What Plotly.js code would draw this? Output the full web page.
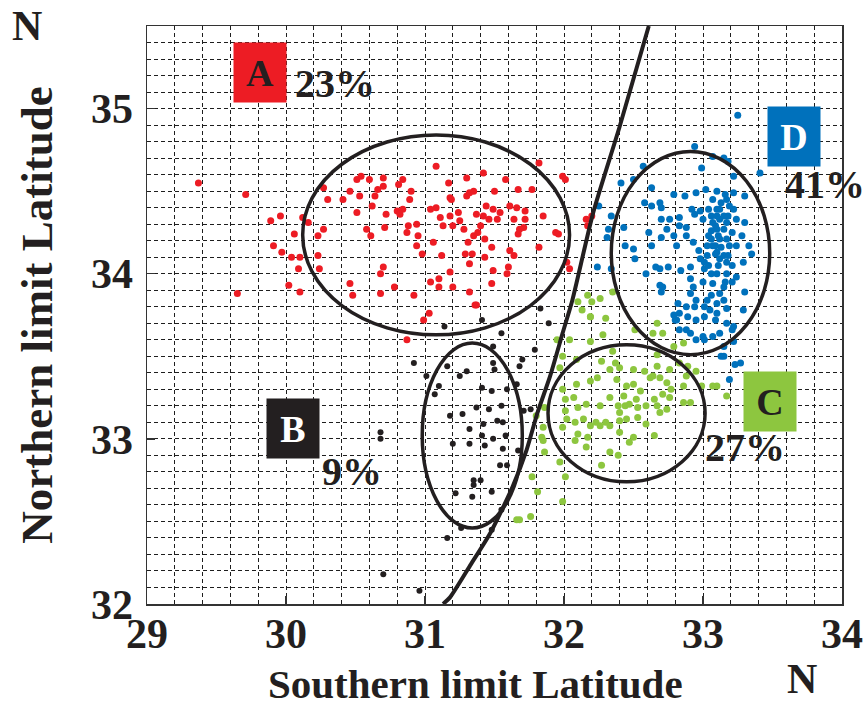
<!DOCTYPE html>
<html>
<head>
<meta charset="utf-8">
<script src="https://cdn.plot.ly/plotly-3.0.1.min.js"></script>
<style>
  html, body { margin: 0; padding: 0; background: #ffffff; }
  #chart { width: 865px; height: 709px; }
</style>
</head>
<body>
<div id="chart"></div>
<script>
// Group A (red): southern / northern limit latitudes
const groupAX = [29.89,29.96,30.12,30.16,30.06,29.91,29.97,30.04,30.10,30.09,30.02,30.10,30.23,30.24,30.23,30.27,30.30,30.27,30.41,30.46,
  30.51,30.54,30.60,30.53,30.51,30.58,30.61,30.62,30.64,30.66,30.70,30.70,30.72,30.71,30.70,30.68,30.68,30.46,30.48,30.78,
  30.81,30.84,30.80,30.84,30.82,30.87,30.88,30.90,30.89,30.94,30.95,30.94,30.98,31.04,31.08,31.08,31.04,31.10,31.10,31.06,
  31.12,31.13,31.11,31.17,31.18,31.19,31.18,31.20,31.20,31.18,31.24,31.25,31.28,31.30,31.32,31.35,31.30,31.29,31.34,31.32,
  31.31,31.35,31.38,31.37,31.42,31.44,31.46,31.40,31.42,31.43,31.43,31.49,31.50,31.52,31.48,31.49,31.48,31.32,31.36,31.54,
  31.58,31.61,31.64,31.66,31.67,31.61,31.64,31.60,31.59,31.67,31.68,31.72,31.72,31.71,31.77,31.82,31.85,31.82,31.94,31.96,
  31.99,32.01,32.02,32.04,32.16,32.20,32.17,31.03,30.99,30.92,29.37,29.71,29.65,31.37,30.87];
const groupAY = [34.32,34.35,34.34,34.31,34.24,34.17,34.13,34.10,34.10,34.03,33.93,33.89,34.11,34.03,34.23,34.27,34.45,34.52,34.45,34.50,
  34.57,34.59,34.57,34.47,34.37,34.27,34.23,34.41,34.47,34.51,34.58,34.53,34.36,34.28,34.04,34.00,33.88,33.94,33.87,33.92,
  34.54,34.57,34.38,34.39,34.36,34.25,34.29,34.50,34.45,34.30,34.23,34.17,34.12,34.39,34.65,34.40,33.95,33.97,33.92,34.19,
  34.11,34.29,34.34,34.55,34.46,34.45,34.35,34.29,33.92,34.01,34.37,34.32,34.27,34.47,34.49,34.50,34.58,34.12,34.12,34.06,
  34.19,34.23,34.25,34.36,34.35,34.41,34.33,34.29,34.61,34.21,34.10,34.39,34.50,34.33,34.16,34.02,33.94,33.89,33.81,34.37,
  34.57,34.41,34.33,34.40,34.51,34.14,34.11,34.04,34.00,34.24,34.27,34.38,34.33,34.28,34.51,34.16,34.35,34.67,34.25,34.24,
  34.59,34.57,34.07,34.03,34.33,34.35,34.29,33.76,33.72,33.87,34.55,34.48,33.88,33.81,33.60];

// Group B (black)
const groupBX = [31.41,31.14,31.55,30.92,31.01,31.16,31.25,31.30,31.49,31.49,31.50,31.41,31.48,31.59,31.10,31.37,31.46,31.55,31.66,31.70,
  31.68,31.79,31.89,31.83,31.18,31.27,31.32,31.42,31.52,31.56,31.58,31.41,31.49,31.43,31.20,31.32,31.56,31.67,31.54,31.59,
  31.35,31.40,31.35,31.22,31.48,31.34,31.55,31.26,31.48,31.16,30.68,30.68,30.70,30.96,31.71,31.76,31.07];
const groupBY = [33.72,33.68,33.64,33.46,33.38,33.44,33.38,33.41,33.56,33.46,33.42,33.31,33.29,33.30,33.32,33.19,33.18,33.20,33.33,33.48,
  33.44,33.54,33.70,33.79,33.14,33.15,33.06,33.09,33.11,33.10,33.02,33.02,33.00,32.96,32.97,32.97,32.94,32.93,32.84,32.84,
  32.75,32.75,32.72,32.67,32.68,32.65,32.57,32.46,32.45,32.40,33.04,33.00,32.18,32.08,33.17,33.18,33.27];

// Group C (green)
const groupCX = [32.17,32.20,32.26,32.10,32.35,32.30,32.19,32.04,32.19,32.28,32.51,32.64,32.67,32.71,32.79,32.86,31.99,31.97,32.09,32.27,
  32.35,32.37,32.40,32.33,32.50,32.58,32.67,32.67,32.76,32.83,32.89,32.95,31.99,32.09,32.19,32.24,32.38,32.45,32.50,32.55,
  32.62,32.64,32.69,32.74,32.77,32.71,32.76,32.86,32.88,32.99,33.10,33.17,32.91,32.86,32.01,32.07,32.01,32.10,32.16,32.26,
  32.33,32.39,32.43,32.44,32.47,32.52,32.53,32.59,32.67,32.69,32.74,32.65,32.02,32.08,32.14,32.19,32.23,32.30,32.33,32.40,
  32.45,32.53,32.59,32.40,31.99,32.10,32.17,32.26,32.40,32.47,32.50,32.65,32.08,32.16,32.33,32.39,32.27,31.97,31.86,31.84,
  31.85,31.80,32.01,31.77,31.81,31.99,31.76,31.86,33.07,31.85,31.95,31.68,31.66,32.19,32.13];
const groupCY = [33.87,33.83,33.85,33.83,33.89,33.73,33.74,33.60,33.59,33.63,33.66,33.64,33.70,33.64,33.56,33.58,33.50,33.43,33.48,33.47,
  33.53,33.46,33.43,33.42,33.42,33.41,33.51,33.44,33.42,33.46,33.44,33.41,33.30,33.33,33.35,33.37,33.36,33.32,33.33,33.29,
  33.37,33.38,33.37,33.34,33.30,33.27,33.25,33.32,33.38,33.32,33.32,33.26,33.22,33.22,33.24,33.25,33.17,33.19,33.21,33.20,
  33.25,33.20,33.26,33.20,33.21,33.24,33.19,33.20,33.20,33.16,33.18,33.24,33.12,33.10,33.12,33.08,33.10,33.10,33.08,33.11,
  33.12,33.13,33.09,33.16,33.07,33.03,33.01,33.08,33.04,32.98,33.01,33.02,32.99,32.95,32.92,32.90,32.84,32.86,32.92,33.01,
  33.07,33.14,32.77,32.77,32.68,32.62,32.53,33.19,33.32,32.99,33.60,32.51,32.51,33.74,33.78];

// Group D (blue)
const groupDX = [33.25,32.94,32.99,32.57,32.50,32.41,33.07,33.15,33.18,33.22,33.41,32.63,32.79,32.87,32.95,33.02,33.10,33.16,33.22,33.30,
  32.58,32.63,32.69,32.70,32.25,32.34,32.43,32.61,32.70,32.76,32.83,32.74,32.83,32.88,32.92,32.94,32.98,33.00,32.32,32.31,
  32.44,32.50,32.51,32.63,32.70,32.79,32.81,32.88,32.93,32.97,33.03,33.04,33.06,33.07,33.09,33.09,33.10,33.12,33.13,33.12,
  33.13,33.15,33.17,33.18,33.17,33.18,33.22,33.24,33.24,33.28,33.30,33.35,33.33,33.29,33.21,33.11,33.06,33.01,32.91,32.84,
  32.75,32.69,32.66,32.59,32.24,32.34,32.69,32.70,32.91,32.93,33.00,33.07,33.16,33.21,33.24,33.30,32.91,32.95,33.06,33.10,
  33.15,33.17,33.29,32.82,32.83,32.89,32.95,33.01,33.09,33.17,33.21,32.80,32.83,32.91,33.01,33.07,33.15,33.22,33.13,33.27,
  32.79,33.04,33.06,33.07,33.10,33.11,33.06,33.09,33.10,33.12,33.15,33.17,33.12,33.15,33.10,33.07,33.17,33.19,33.21,33.19,
  33.10,33.17,33.03,33.01,32.98,33.04,33.15,33.12,33.03,33.01,33.05,33.10,32.94,32.88,32.71,32.81,32.88,32.95,33.00,33.12,
  33.15,33.22,33.23,33.19];
const groupDY = [34.96,34.77,34.64,34.65,34.57,34.55,34.71,34.70,34.68,34.59,34.61,34.52,34.48,34.47,34.49,34.51,34.50,34.48,34.49,34.47,
  34.43,34.41,34.43,34.40,34.41,34.35,34.28,34.25,34.33,34.33,34.34,34.27,34.29,34.28,34.39,34.36,34.38,34.33,34.27,34.22,
  34.17,34.15,34.09,34.17,34.22,34.23,34.17,34.23,34.19,34.14,34.17,34.23,34.26,34.17,34.12,34.29,34.35,34.39,34.43,34.21,
  34.16,34.27,34.31,34.35,34.21,34.11,34.39,34.33,34.17,34.23,34.31,34.12,34.17,34.07,34.05,34.05,34.00,34.03,34.04,34.02,
  34.04,34.03,34.04,34.00,34.04,34.03,33.93,33.89,33.97,33.92,33.95,33.94,33.95,33.95,33.98,33.89,33.88,33.84,33.87,33.82,
  33.84,33.79,33.78,33.82,33.76,33.74,33.72,33.74,33.72,33.70,33.66,33.72,33.66,33.64,33.60,33.62,33.56,33.59,33.50,33.46,
  33.75,34.39,34.35,34.31,34.27,34.23,34.21,34.17,34.13,34.09,34.11,34.07,34.33,34.35,34.39,34.45,34.45,34.41,34.25,34.17,
  34.00,34.00,34.11,34.07,34.09,34.05,33.92,33.88,33.84,33.80,33.78,33.76,33.80,33.80,33.92,33.72,33.66,33.60,33.62,33.64,
  33.50,33.68,33.45,33.36];

// Dividing line between the western and eastern groups
const boundaryX = [31.13,31.18,31.33,31.47,31.63,31.73,31.81,31.90,31.99,32.06,32.21,32.40,32.61];
const boundaryY = [32.00,32.04,32.24,32.43,32.71,32.93,33.16,33.38,33.64,33.84,34.37,34.89,35.50];

// Cluster ellipses: centre and half-axes, in degrees
const ellipseNames = ["A", "B", "C", "D"];
const ellipseCx = [31.08, 31.34, 32.45, 32.91];
const ellipseCy = [34.235, 33.02, 33.155, 34.125];
const ellipseRx = [0.96, 0.36, 0.565, 0.57];
const ellipseRy = [0.605, 0.56, 0.415, 0.615];

// Group labels and shares
const labelText = ["A", "B", "C", "D"];
const labelX = [29.81, 30.05, 33.48, 33.655];
const labelY = [35.22, 33.06, 33.227, 34.83];
const labelBg = ["#ED1C24", "#231F20", "#8DC63F", "#0071BC"];
const labelInk = ["#231F20", "#ffffff", "#231F20", "#ffffff"];
const shareText = ["23%", "9%", "27%", "41%"];
const shareX = [30.35, 30.475, 33.30, 33.88];
const shareY = [35.15, 32.80, 32.95, 34.54];

// Axis ticks
const xTicks = [29, 30, 31, 32, 33, 34];
const yTicks = [32, 33, 34, 35];

const SERIF = "Liberation Serif, Times New Roman, serif";
const INK = "#231F20";

function pointTrace(xs, ys, color, size) {
  return {
    type: "scatter", mode: "markers", x: xs, y: ys,
    marker: { color: color, size: size, symbol: "circle", line: { width: 0 } },
    hoverinfo: "x+y", showlegend: false, cliponaxis: true
  };
}

const traces = [
  pointTrace(groupAX, groupAY, "#ED1C24", 7),
  pointTrace(groupCX, groupCY, "#8DC63F", 7),
  pointTrace(groupDX, groupDY, "#0071BC", 7),
  pointTrace(groupBX, groupBY, INK, 6),
  {
    type: "scatter", mode: "lines", x: boundaryX, y: boundaryY,
    line: { color: INK, width: 4, shape: "spline", smoothing: 0.6 },
    hoverinfo: "skip", showlegend: false
  }
];

const shapes = ellipseNames.map((n, i) => ({
  type: "circle", xref: "x", yref: "y",
  x0: ellipseCx[i] - ellipseRx[i], x1: ellipseCx[i] + ellipseRx[i],
  y0: ellipseCy[i] - ellipseRy[i], y1: ellipseCy[i] + ellipseRy[i],
  line: { color: INK, width: 3.5 }, fillcolor: "rgba(0,0,0,0)"
}));

const annotations = [];
labelText.forEach((t, i) => {
  annotations.push({
    x: labelX[i], y: labelY[i], xref: "x", yref: "y", text: t, showarrow: false,
    xanchor: "center", yanchor: "middle",
    bgcolor: labelBg[i], width: 50, height: 57, align: "center", valign: "middle",
    font: { family: SERIF, size: 38, weight: "bold", color: labelInk[i] }
  });
  annotations.push({
    x: shareX[i], y: shareY[i], xref: "x", yref: "y", text: shareText[i], showarrow: false,
    xanchor: "center", yanchor: "middle",
    font: { family: SERIF, size: 40, weight: "bold", color: INK }
  });
});
// compass marks and the horizontal axis title
annotations.push({
  x: -0.173, y: 1.0, xref: "paper", yref: "paper", text: "N", showarrow: false,
  xanchor: "center", yanchor: "middle",
  font: { family: SERIF, size: 42, weight: "bold", color: INK }
});
annotations.push({
  x: 0.942, y: -0.13, xref: "paper", yref: "paper", text: "N", showarrow: false,
  xanchor: "center", yanchor: "middle",
  font: { family: SERIF, size: 42, weight: "bold", color: INK }
});
annotations.push({
  x: 0.472, y: -0.139, xref: "paper", yref: "paper", text: "Southern limit Latitude", showarrow: false,
  xanchor: "center", yanchor: "middle",
  font: { family: SERIF, size: 41, weight: "bold", color: INK }
});

const gridDash = "4px,3px";
const gridColor = "#1e1e1e";
const axisCommon = {
  showline: true, mirror: true, linecolor: "#333333", linewidth: 1.5,
  ticks: "inside", ticklen: 8, tickcolor: "#333333", tickwidth: 1.5,
  showgrid: true, gridcolor: gridColor, gridwidth: 1, griddash: gridDash,
  zeroline: false,
  tickfont: { family: SERIF, size: 42, weight: "bold", color: INK }
};

const layout = {
  width: 865, height: 709,
  margin: { l: 147, r: 23, t: 26, b: 105 },
  paper_bgcolor: "#ffffff", plot_bgcolor: "#ffffff",
  font: { family: SERIF, color: INK },
  xaxis: Object.assign({}, axisCommon, {
    range: [29, 34], tickmode: "array", tickvals: xTicks, ticktext: xTicks.map(String),
    ticklabelstandoff: -8,
    minor: { dtick: 0.2, showgrid: true, gridcolor: gridColor, gridwidth: 1, griddash: gridDash, ticks: "" }
  }),
  yaxis: Object.assign({}, axisCommon, {
    range: [32, 35.5], tickmode: "array", tickvals: yTicks, ticktext: yTicks.map(String),
    ticklabelstandoff: 4,
    minor: { dtick: 0.1, showgrid: true, gridcolor: gridColor, gridwidth: 1, griddash: gridDash, ticks: "" },
    title: { text: "Northern limit Latitude", standoff: 24,
      font: { family: SERIF, size: 45, weight: "bold", color: INK } }
  }),
  shapes: shapes,
  annotations: annotations,
  showlegend: false
};

Plotly.newPlot("chart", traces, layout, { staticPlot: true, displayModeBar: false });
</script>
</body>
</html>
